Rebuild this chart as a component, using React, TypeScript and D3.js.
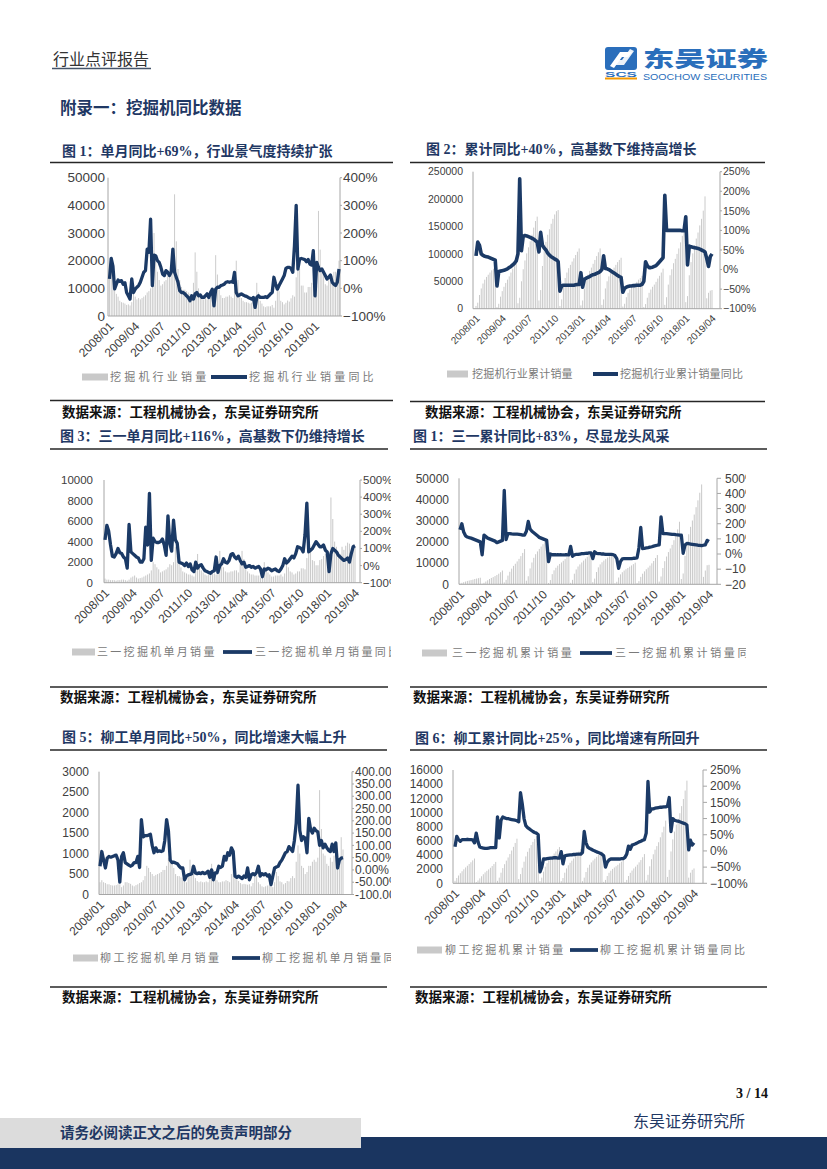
import React from "react";
import * as d3 from "d3";

// ---- categories ----
const months: string[] = [];
for (let y = 2008; y <= 2019; y++) {
  for (let m = 1; m <= 12; m++) {
    if (y === 2019 && m > 4) break;
    months.push(`${y}/${String(m).padStart(2, "0")}`);
  }
}
const xTickLabels = ["2008/01", "2009/04", "2010/07", "2011/10", "2013/01", "2014/04", "2015/07", "2016/10", "2018/01", "2019/04"];

// ---- 图1: 挖掘机行业单月销量 / 同比 (to 2019/03) ----
const industrySales = [
  15000, 18000, 14000, 10000, 8000, 7000, 5500, 5000, 4800, 4500, 4000, 4200,
  3800, 5000, 9000, 7000, 6000, 6500, 6000, 6500, 7000, 7500, 8500, 9000,
  10000, 12000, 30000, 22000, 16000, 13000, 11000, 11500, 12500, 13000, 14500, 15000,
  15000, 19000, 44000, 27000, 17000, 13000, 10500, 9500, 9500, 9000, 8500, 8000,
  6000, 12000, 23000, 16000, 10000, 8000, 6500, 6000, 6500, 6000, 6000, 6500,
  6500, 9000, 22000, 15000, 9500, 7500, 6500, 6500, 7000, 7000, 7500, 7000,
  6500, 10000, 20000, 13000, 8500, 6500, 5500, 5000, 5000, 4800, 4500, 4800,
  4000, 5000, 12000, 8500, 5500, 4500, 3500, 3200, 3500, 3500, 3500, 4000,
  3000, 5500, 11000, 9000, 5500, 5000, 4200, 4800, 5600, 5200, 6400, 7500,
  7000, 14000, 23000, 17000, 11000, 11000, 8500, 8500, 10500, 10500, 12000, 12000,
  12000, 11000, 38000, 24000, 16000, 15000, 11500, 11000, 13500, 12000, 14500, 16000,
  16000, 12000, 20000,
];
const industryYoy = [
  34, 108, 80, -2, 15, 30, 25, 28, 15, 20, -15, -27,
  -39, 34, -15, -3, 4, 10, 22, 40, 58, 64, 142, 130,
  250, 10, 120, 118, 100, 94, 76, 52, 46, 64, 58, 46,
  58, 142, 58, 40, 22, -8, -15, -15, -20, -27, -33, -45,
  -27, -39, -20, -15, -27, -24, -33, -33, -27, -20, -33, -15,
  -3, -63, -3, 4, 4, 10, 12, 15, 22, 24, 22, 24,
  22, 58, -15, -27, -24, -20, -24, -27, -29, -33, -36, -39,
  -33, -69, -33, -27, -33, -33, -33, -30, -33, -27, -20, -15,
  40, 15, -3, 10, 22, 34, 46, 72, 76, 76, 72, 58,
  154, 300, 70, 106, 108, 106, 104, 96, 104, 88, 84, 136,
  -27, 94, 76, 64, 70, 58, 46, 34, 40, 48, 22, 15,
  10, 22, 70,
];

// ---- 图2: 挖掘机行业累计销量 / 累计同比 ----
const industryCum = [
  5000, 11000, 25000, 37000, 46000, 53000, 58000, 62000, 66000, 70000, 73000, 76000,
  3000, 9000, 22000, 32000, 40000, 47000, 53000, 59000, 66000, 73000, 82000, 92000,
  10000, 20000, 50000, 72000, 88000, 101000, 112000, 123000, 135000, 148000, 160000, 168000,
  15000, 34000, 78000, 105000, 122000, 135000, 145000, 155000, 164000, 172000, 178000, 180000,
  5000, 17000, 40000, 56000, 66000, 74000, 80000, 86000, 92000, 98000, 104000, 110000,
  6000, 15000, 37000, 52000, 62000, 69000, 75000, 82000, 89000, 96000, 103000, 110000,
  7000, 17000, 37000, 50000, 59000, 65000, 70000, 75000, 80000, 85000, 89000, 93000,
  4000, 9000, 21000, 29000, 35000, 39000, 43000, 46000, 49000, 53000, 56000, 60000,
  3000, 8500, 20000, 29000, 35000, 40000, 44000, 49000, 55000, 60000, 66000, 73000,
  7000, 21000, 44000, 61000, 72000, 83000, 91000, 100000, 110000, 121000, 133000, 145000,
  12000, 23000, 61000, 85000, 101000, 116000, 128000, 139000, 152000, 164000, 179000, 205000,
  19000, 29000, 33000, 34000,
];
const industryCumYoy = [
  35, 70, 62, 40, 36, 34, 33, 32, 30, 28, 26, 24,
  -42, -5, -4, -3, -2, 0, 2, 5, 8, 12, 16, 22,
  40, 232, 48, 85, 87, 86, 84, 82, 80, 78, 74, 70,
  45, 95, 62, 55, 50, 42, 37, 33, 30, 27, 25, 20,
  -55, -42, -40, -40, -40, -40, -40, -40, -40, -39, -38, -38,
  -8, -45, -25, -22, -20, -18, -15, -13, -12, -10, -8, -5,
  0, 35, 3, 2, 0, -3, -6, -9, -12, -15, -18, -20,
  -58, -48, -45, -43, -42, -42, -41, -41, -40, -40, -40, -38,
  -30, 20, 10, 5, 5, 6, 8, 10, 15, 20, 25, 30,
  190, 100, 100, 100, 100, 100, 100, 100, 100, 100, 99, 99,
  135, 12, 60, 58, 57, 56, 55, 54, 52, 50, 48, 45,
  28, 8, 33, 40,
];

// ---- 图3: 三一单月销量 / 同比 ----
const sanyMonthly = [
  400, 300, 300, 250, 250, 250, 200, 250, 250, 300, 300, 250,
  200, 300, 500, 600, 700, 500, 400, 450, 500, 600, 700, 800,
  900, 1200, 2000, 1800, 1500, 1300, 1000, 1100, 1200, 1300, 1500, 1800,
  1700, 2000, 3500, 2600, 2000, 1500, 1100, 1000, 900, 800, 800, 700,
  600, 1400, 2800, 1800, 1200, 1000, 800, 700, 800, 800, 900, 900,
  800, 1500, 3100, 2200, 1500, 1100, 1000, 1000, 1100, 1100, 1200, 1200,
  1000, 1800, 3100, 2300, 1500, 1100, 900, 800, 800, 700, 700, 700,
  500, 700, 2000, 1500, 1000, 800, 600, 600, 700, 700, 700, 800,
  600, 900, 2000, 1500, 1100, 1000, 800, 900, 1100, 1100, 1400, 1400,
  1300, 2400, 4000, 3200, 2200, 2100, 1700, 1700, 2200, 2300, 2600, 2800,
  2500, 2600, 8300, 6200, 4000, 3500, 3000, 2800, 3500, 3200, 3600, 3900,
  3800, 3000, 3700, 3500,
];
const sanyMonthlyYoy = [
  150, 235, 200, 120, 55, 50, 70, 100, 75, 70, 50, 40,
  -15, 240, 80, 70, 60, 50, 45, 20, 20, 40, 225, 120,
  422, 30, 160, 140, 135, 135, 140, 155, 120, 60, 290, 130,
  85, 265, 150, 130, 20, 15, 10, 0, 15, -5, 10, -25,
  -35, 20, -15, 0, 5, -15, -30, -35, -40, -45, -35, -30,
  50, -40, 0, 10, 40, 20, 15, 30, 65, 70, 50, 40,
  55, 30, 10, 20, -10, -5, 0, -10, -5, -15, -10, -5,
  -20, -65, -20, -25, -15, -20, -30, -25, -20, -30, -35, -20,
  0, 40, 15, 25, 40, 55, 45, 70, 110, 105, 100, 80,
  180, 365, 80, 90, 100, 120, 140, 125, 110, 110, 120, 90,
  80, -35, 70, 100, 90, 80, 60, 50, 40, 30, 35, 45,
  20, 70, 110, 116,
];

// ---- 图4: 三一累计销量 / 累计同比 ----
const sanyCum = [
  400, 700, 1000, 1300, 1600, 1800, 2000, 2200, 2500, 2700, 2900, 3100,
  300, 700, 1300, 1900, 2500, 3000, 3400, 3900, 4400, 5000, 5700, 6500,
  900, 2100, 4100, 5900, 7400, 8700, 9700, 10800, 12000, 13300, 14800, 16600,
  1700, 3800, 7500, 10300, 12500, 14200, 15500, 16700, 17800, 18900, 19900, 20800,
  600, 2000, 4800, 6600, 7800, 8800, 9600, 10300, 11100, 11900, 12800, 13700,
  700, 2100, 5000, 7000, 8400, 9400, 10300, 11200, 12100, 13000, 14000, 15000,
  1000, 2700, 5800, 8000, 9400, 10400, 11200, 11900, 12600, 13200, 13800, 14300,
  500, 1200, 3200, 4700, 5700, 6500, 7100, 7700, 8300, 8900, 9500, 10200,
  600, 1500, 3500, 5000, 6100, 7100, 7900, 8800, 9900, 11000, 12400, 13800,
  1300, 3700, 7700, 10900, 13100, 15200, 16900, 18600, 20800, 23100, 25900, 29500,
  2500, 5100, 13400, 19600, 23600, 27100, 30100, 32900, 36400, 39600, 43200, 47100,
  3500, 6500, 9000, 9200,
];
const sanyCumYoy = [
  160, 200, 145, 120, 112, 108, 105, 100, 95, 90, 85, 80,
  -5, 125, 115, 105, 100, 95, 90, 85, 75, 80, 85, 90,
  420, 95, 135, 135, 133, 132, 132, 131, 130, 128, 125, 125,
  150, 215, 165, 150, 140, 130, 120, 110, 105, 100, 95, 90,
  -50, 0, -5, -5, -5, -4, -5, -5, -6, -5, -5, -6,
  50, -15, -5, -3, -2, 0, 2, 3, 4, 5, 7, 8,
  -30, 15, 5, 3, 2, 0, 0, -2, -2, -3, -3, -4,
  -10, -30, -95, -50, -32, -30, -30, -30, -30, -30, -28, -28,
  -25, 40, 175, 35, 38, 40, 42, 45, 48, 52, 55, 58,
  60, 245, 135, 135, 134, 133, 132, 130, 130, 128, 127, 125,
  125, 5, 60, 70, 68, 66, 64, 62, 60, 58, 57, 55,
  58, 60, 90, 83,
];

// ---- 图5: 柳工单月销量 / 同比 ----
const liugongMonthly = [
  300, 350, 300, 280, 250, 250, 230, 220, 220, 230, 250, 250,
  180, 220, 300, 300, 280, 260, 220, 200, 230, 250, 280, 300,
  350, 450, 700, 650, 550, 500, 450, 480, 500, 520, 550, 600,
  600, 700, 900, 850, 750, 650, 500, 450, 450, 420, 400, 380,
  300, 500, 850, 700, 500, 400, 330, 300, 320, 300, 300, 320,
  300, 450, 750, 600, 450, 350, 300, 300, 320, 320, 350, 330,
  300, 500, 800, 600, 420, 330, 280, 250, 260, 250, 240, 250,
  200, 280, 550, 450, 300, 250, 200, 180, 200, 220, 220, 250,
  180, 300, 550, 450, 320, 300, 250, 280, 330, 320, 400, 450,
  400, 800, 1200, 1000, 700, 650, 500, 550, 700, 700, 800, 850,
  800, 900, 2550, 1600, 1000, 950, 750, 700, 900, 800, 950, 1000,
  900, 700, 1400, 1100,
];
const liugongMonthlyYoy = [
  15, 75, 40, 8, 48, 55, 52, 55, 58, 60, 40, -50,
  55, 70, 30, 25, 20, 15, 20, 30, 30, 55, 10, 205,
  135, 140, 140, 142, 145, 100, 70, 90, 75, 78, 75, 78,
  120, 205, 160, 40, 30, 32, 28, 25, 15, 8, 8, -40,
  -25, -20, -18, -15, 15, -12, -15, -12, -15, -10, -15, -12,
  -5, -30, 0, -40, -12, -12, 15, 10, 15, 55, 40, 70,
  60, 90, 75, -25, -30, -25, -30, -35, -25, -30, 8, -40,
  -20, -15, -20, -10, 15, -25, -15, -20, -15, -25, -20, -60,
  -25, 8, 12, 15, 30, 40, 55, 70, 75, 95, 85, 75,
  120, 190, 345, 160, 120, 135, 130, 70, 210, 165, 150, 170,
  160, 155, 100, 120, 90, 105, 90, 80, 75, 105, 75, 110,
  8, 40, 48, 50,
];

// ---- 图6: 柳工累计销量 / 累计同比 ----
const liugongCum = [
  350, 750, 1100, 1420, 1700, 1980, 2240, 2480, 2720, 2970, 3240, 3500,
  180, 400, 700, 1000, 1280, 1540, 1760, 1960, 2190, 2440, 2720, 3020,
  350, 800, 1500, 2150, 2700, 3200, 3650, 4130, 4630, 5150, 5700, 6300,
  600, 1300, 2200, 3050, 3800, 4450, 4950, 5400, 5850, 6270, 6670, 7050,
  300, 800, 1650, 2350, 2850, 3250, 3580, 3880, 4200, 4500, 4800, 5120,
  300, 750, 1500, 2100, 2550, 2900, 3200, 3500, 3820, 4140, 4490, 4820,
  300, 800, 1600, 2200, 2620, 2950, 3230, 3480, 3740, 3990, 4230, 4480,
  200, 480, 1030, 1480, 1780, 2030, 2230, 2410, 2610, 2830, 3050, 3300,
  180, 480, 1030, 1480, 1800, 2100, 2350, 2630, 2960, 3280, 3680, 4130,
  400, 1200, 2400, 3400, 4100, 4750, 5250, 5800, 6500, 7200, 8000, 8850,
  900, 1900, 4500, 6200, 7300, 8300, 9100, 9900, 10900, 11900, 13100, 14500,
  800, 1500, 1900, 2100,
];
const liugongCumYoy = [
  13, 45, 35, 30, 35, 35, 35, 36, 35, 35, 34, 25,
  55, 28, 12, 10, 9, 8, 8, 9, 10, 10, 10, 10,
  105, 40, 95, 105, 102, 100, 100, 98, 97, 96, 95, 93,
  90, 180, 145, 100, 78, 72, 68, 64, 60, 57, 55, 50,
  -65, -50, -25, -25, -24, -23, -22, -22, -21, -21, -22, -22,
  -2, -40, -15, -14, -13, -12, -12, -11, -11, -10, -10, -10,
  -5, 60, 25, 12, 8, 5, 2, 0, -3, -5, -7, -10,
  -15, -50, -35, -28, -25, -25, -25, -25, -25, -25, -24, -24,
  -20, -10, 15, 5, 18, 20, 22, 25, 28, 30, 33, 35,
  55, 215, 120, 130, 130, 132, 133, 134, 135, 135, 136, 136,
  138, 165, 60, 100, 95, 93, 92, 90, 88, 86, 84, 80,
  3, 33, 18, 25,
];

const NAVY = "#1B3A66";
const TITLE_NAVY = "#1F3864";
const BAR = "#C9C9C9";
const AXIS = "#A6A6A6";
const CJK = "'Noto Sans CJK SC', sans-serif";
const SERIF_CJK = "'Liberation Serif', 'Noto Sans CJK SC', serif";
const ARIAL = "'Liberation Sans', Arial, sans-serif";

const pct = (v: number) => `${v < 0 ? "−" : ""}${Math.abs(v)}%`;
const pct2 = (v: number) => `${v < 0 ? "-" : ""}${Math.abs(v).toFixed(2)}%`;

type PanelCfg = {
  id: string;
  title: string;
  titleX: number;
  titleY: number;
  ruleX0: number;
  ruleX1: number;
  ruleTop: number;
  ruleBottom: number;
  sourceX: number;
  sourceY: number;
  bars: number[];
  line: number[];
  leftMax: number;
  leftStep: number;
  rightMin: number;
  rightMax: number;
  rightStep: number;
  rightFmt: (v: number) => string;
  axisL: number;
  axisR: number;
  dataX0: number;
  dataX1: number;
  yTop: number;
  yBottom: number;
  leftGap: number;
  rightGap: number;
  numFont: number;
  xFont: number;
  lineWidth: number;
  legendY: number;
  legRect: [number, number];
  leg1X: number;
  legLine: [number, number];
  leg2X: number;
  legSpacing: number;
  legend1: string;
  legend2: string;
  clipX0: number;
  clipX1: number;
};

function Panel(p: PanelCfg) {
  const n = p.line.length;
  const x = d3.scalePoint<number>().domain(d3.range(n)).range([p.dataX0, p.dataX1]);
  const yL = d3.scaleLinear().domain([0, p.leftMax]).range([p.yBottom, p.yTop]);
  const yR = d3.scaleLinear().domain([p.rightMin, p.rightMax]).range([p.yBottom, p.yTop]);
  const bw = Math.max(0.9, x.step() * 0.55);
  const path = d3
    .line<number>()
    .x((_, i) => x(i) as number)
    .y((d) => yR(d))(p.line) as string;
  const leftTicks = d3.range(0, p.leftMax + 1, p.leftStep);
  const rightTicks = d3.range(p.rightMin, p.rightMax + 0.001, p.rightStep);
  const clipId = `clip-${p.id}`;
  const labelIdx = d3.range(n).filter((i) => xTickLabels.includes(months[i]));
  const tickLen = Math.min(4, p.rightGap - 1);

  return (
    <g>
      <text x={p.titleX} y={p.titleY} fontFamily={SERIF_CJK} fontWeight={700} fontSize={14} fill={TITLE_NAVY}>
        {p.title}
      </text>
      <line x1={p.ruleX0} x2={p.ruleX1} y1={p.ruleTop} y2={p.ruleTop} stroke="#262626" strokeWidth={1.6} />
      <defs>
        <clipPath id={clipId}>
          <rect x={p.clipX0} y={p.ruleTop + 2} width={p.clipX1 - p.clipX0} height={p.ruleBottom - p.ruleTop - 4} />
        </clipPath>
      </defs>
      <g clipPath={`url(#${clipId})`}>
        {/* bars */}
        {p.bars.map((v, i) => (
          <rect key={i} x={(x(i) as number) - bw / 2} y={yL(v)} width={bw} height={p.yBottom - yL(v)} fill={BAR} />
        ))}
        {/* axes */}
        <line x1={p.axisL} x2={p.axisL} y1={p.yTop} y2={p.yBottom} stroke={AXIS} strokeWidth={1} />
        <line x1={p.axisR} x2={p.axisR} y1={p.yTop} y2={p.yBottom} stroke={AXIS} strokeWidth={1} />
        <line x1={p.axisL} x2={p.axisR} y1={p.yBottom} y2={p.yBottom} stroke={AXIS} strokeWidth={1} />
        {leftTicks.map((t) => (
          <text key={t} x={p.axisL - p.leftGap} y={yL(t)} dy="0.35em" textAnchor="end" fontFamily={ARIAL} fontSize={p.numFont} fill="#404040">
            {t}
          </text>
        ))}
        {rightTicks.map((t) => (
          <g key={t}>
            <line x1={p.axisR} x2={p.axisR + tickLen} y1={yR(t)} y2={yR(t)} stroke={AXIS} />
            <text x={p.axisR + p.rightGap} y={yR(t)} dy="0.35em" fontFamily={ARIAL} fontSize={p.numFont} fill="#404040">
              {p.rightFmt(t)}
            </text>
          </g>
        ))}
        {labelIdx.map((i) => {
          const lx = (x(i) as number) + 2;
          const ly = p.yBottom + 8;
          return (
            <text key={i} x={lx} y={ly} textAnchor="end" fontFamily={ARIAL} fontSize={p.xFont} fill="#404040" transform={`rotate(-45 ${lx} ${ly})`} dy="0.35em">
              {months[i]}
            </text>
          );
        })}
        {/* yoy line */}
        <path d={path} fill="none" stroke={NAVY} strokeWidth={p.lineWidth} strokeLinejoin="round" />
        {/* legend */}
        <rect x={p.legRect[0]} y={p.legendY - 3.5} width={p.legRect[1] - p.legRect[0]} height={7} fill={BAR} />
        <text x={p.leg1X} y={p.legendY} dy="0.36em" fontFamily={CJK} fontSize={11} fill="#7a7a7a" letterSpacing={p.legSpacing}>
          {p.legend1}
        </text>
        <line x1={p.legLine[0]} x2={p.legLine[1]} y1={p.legendY} y2={p.legendY} stroke={NAVY} strokeWidth={p.lineWidth + 0.5} />
        <text x={p.leg2X} y={p.legendY} dy="0.36em" fontFamily={CJK} fontSize={11} fill="#7a7a7a" letterSpacing={p.legSpacing}>
          {p.legend2}
        </text>
      </g>
      <line x1={p.ruleX0} x2={p.ruleX1} y1={p.ruleBottom} y2={p.ruleBottom} stroke="#262626" strokeWidth={1.6} />
      <text x={p.sourceX} y={p.sourceY} dy="0.36em" fontFamily={CJK} fontWeight={700} fontSize={13.5} fill="#111">
        数据来源：工程机械协会，东吴证券研究所
      </text>
    </g>
  );
}

const panels: PanelCfg[] = [
  {
    id: "c1", title: "图 1：单月同比+69%，行业景气度持续扩张", titleX: 62, titleY: 156,
    ruleX0: 50, ruleX1: 393, ruleTop: 162.5, ruleBottom: 400.5, sourceX: 62, sourceY: 412,
    bars: industrySales, line: industryYoy, leftMax: 50000, leftStep: 10000,
    rightMin: -100, rightMax: 400, rightStep: 100, rightFmt: pct,
    axisL: 108, axisR: 340, dataX0: 109.5, dataX1: 339, yTop: 177.7, yBottom: 316,
    leftGap: 3, rightGap: 3, numFont: 13.5, xFont: 12, lineWidth: 3.3,
    legendY: 377, legRect: [82, 108], leg1X: 110, legLine: [211, 247], leg2X: 249, legSpacing: 3.2,
    legend1: "挖掘机行业销量", legend2: "挖掘机行业销量同比", clipX0: 40, clipX1: 400,
  },
  {
    id: "c2", title: "图 2：累计同比+40%，高基数下维持高增长", titleX: 426, titleY: 154,
    ruleX0: 410, ruleX1: 765, ruleTop: 162.5, ruleBottom: 401.5, sourceX: 425, sourceY: 412,
    bars: industryCum, line: industryCumYoy, leftMax: 250000, leftStep: 50000,
    rightMin: -100, rightMax: 250, rightStep: 50, rightFmt: pct,
    axisL: 473, axisR: 720, dataX0: 476, dataX1: 712, yTop: 171.7, yBottom: 308.7,
    leftGap: 10, rightGap: 3, numFont: 10.5, xFont: 10, lineWidth: 3.6,
    legendY: 374, legRect: [447, 468], leg1X: 472, legLine: [593, 618], leg2X: 620, legSpacing: 0.2,
    legend1: "挖掘机行业累计销量", legend2: "挖掘机行业累计销量同比", clipX0: 403, clipX1: 800,
  },
  {
    id: "c3", title: "图 3：三一单月同比+116%，高基数下仍维持增长", titleX: 60, titleY: 441,
    ruleX0: 50, ruleX1: 388, ruleTop: 449, ruleBottom: 687, sourceX: 60, sourceY: 697,
    bars: sanyMonthly, line: sanyMonthlyYoy, leftMax: 10000, leftStep: 2000,
    rightMin: -100, rightMax: 500, rightStep: 100, rightFmt: pct,
    axisL: 104, axisR: 360, dataX0: 105, dataX1: 355, yTop: 480, yBottom: 582.7,
    leftGap: 11, rightGap: 3, numFont: 11.5, xFont: 12, lineWidth: 3.3,
    legendY: 652, legRect: [72, 95], leg1X: 97, legLine: [223, 252], leg2X: 255, legSpacing: 2.3,
    legend1: "三一挖掘机单月销量", legend2: "三一挖掘机单月销量同比", clipX0: 40, clipX1: 391,
  },
  {
    id: "c4", title: "图 1：三一累计同比+83%，尽显龙头风采", titleX: 413, titleY: 441,
    ruleX0: 410, ruleX1: 767, ruleTop: 449, ruleBottom: 687, sourceX: 413, sourceY: 697,
    bars: sanyCum, line: sanyCumYoy, leftMax: 50000, leftStep: 10000,
    rightMin: -200, rightMax: 500, rightStep: 100, rightFmt: pct,
    axisL: 459, axisR: 717, dataX0: 460, dataX1: 709, yTop: 478.3, yBottom: 584.3,
    leftGap: 10, rightGap: 8, numFont: 12, xFont: 12, lineWidth: 3.3,
    legendY: 653, legRect: [422, 447], leg1X: 452, legLine: [580, 612], leg2X: 615, legSpacing: 2.6,
    legend1: "三一挖掘机累计销量", legend2: "三一挖掘机累计销量同比", clipX0: 403, clipX1: 746,
  },
  {
    id: "c5", title: "图 5：柳工单月同比+50%，同比增速大幅上升", titleX: 62, titleY: 742,
    ruleX0: 50, ruleX1: 387, ruleTop: 750, ruleBottom: 987, sourceX: 62, sourceY: 997,
    bars: liugongMonthly, line: liugongMonthlyYoy, leftMax: 3000, leftStep: 500,
    rightMin: -100, rightMax: 400, rightStep: 50, rightFmt: pct2,
    axisL: 99, axisR: 352, dataX0: 100, dataX1: 343, yTop: 771.7, yBottom: 894.5,
    leftGap: 10, rightGap: 3, numFont: 12, xFont: 12, lineWidth: 3.3,
    legendY: 958, legRect: [73, 98], leg1X: 100, legLine: [232, 260], leg2X: 262, legSpacing: 2.5,
    legend1: "柳工挖掘机单月销量", legend2: "柳工挖掘机单月销量同比", clipX0: 40, clipX1: 391,
  },
  {
    id: "c6", title: "图 6：柳工累计同比+25%，同比增速有所回升", titleX: 415, titleY: 743,
    ruleX0: 410, ruleX1: 767, ruleTop: 750, ruleBottom: 987, sourceX: 415, sourceY: 997,
    bars: liugongCum, line: liugongCumYoy, leftMax: 16000, leftStep: 2000,
    rightMin: -100, rightMax: 250, rightStep: 50, rightFmt: pct,
    axisL: 453, axisR: 703, dataX0: 455, dataX1: 694, yTop: 770, yBottom: 883.3,
    leftGap: 10, rightGap: 7, numFont: 12, xFont: 12, lineWidth: 3.3,
    legendY: 950, legRect: [417, 442], leg1X: 445, legLine: [570, 598], leg2X: 600, legSpacing: 2.4,
    legend1: "柳工挖掘机累计销量", legend2: "柳工挖掘机累计销量同比", clipX0: 403, clipX1: 800,
  },
];

export default function App() {
  return (
    <svg width={827} height={1169} viewBox="0 0 827 1169" style={{ position: "absolute", left: 0, top: 0, background: "#fff" }}>
      <rect x={0} y={0} width={827} height={1169} fill="#fff" />
      {/* header */}
      <text x={53} y={65} fontFamily={CJK} fontSize={16} fill="#333">行业点评报告</text>
      <line x1={52} x2={151} y1={68.5} y2={68.5} stroke="#44546A" strokeWidth={1.5} />
      {/* logo */}
      <rect x={605} y={47} width={32} height={23} rx={3} fill="#2A6EBB" />
      <path d="M610 66 L620 52 L632 52 L628 57 L622 57 L614 68 Z" fill="#fff" />
      <path d="M634 51 L624 65 L612 65 L616 60 L622 60 L630 49 Z" fill="#fff" opacity={0.9} />
      <text x={605} y={76.5} fontFamily={ARIAL} fontWeight={700} fontSize={7.5} fill="#2A6EBB" textLength={32} lengthAdjust="spacingAndGlyphs">SCS</text>
      <rect x={605} y={77.5} width={32} height={2} fill="#F39800" />
      <text x={643} y={66} fontFamily={CJK} fontWeight={900} fontSize={21} fill="#2A6EBB" textLength={125} lengthAdjust="spacingAndGlyphs">东吴证券</text>
      <text x={643} y={80} fontFamily={ARIAL} fontSize={9.5} fill="#2A6EBB" textLength={124} lengthAdjust="spacingAndGlyphs">SOOCHOW SECURITIES</text>
      {/* section title */}
      <text x={60} y={114} fontFamily={CJK} fontWeight={700} fontSize={16.5} fill={TITLE_NAVY}>附录一：挖掘机同比数据</text>

      {panels.map((p) => (
        <Panel key={p.id} {...p} />
      ))}

      {/* footer */}
      <text x={768} y={1098} textAnchor="end" fontFamily="'Liberation Serif', serif" fontWeight={700} fontSize={14} fill="#111">3 / 14</text>
      <text x={745} y={1127} textAnchor="end" fontFamily={CJK} fontSize={16} fill={TITLE_NAVY}>东吴证券研究所</text>
      <rect x={0} y={1137} width={827} height={32} fill="#1A3560" />
      <rect x={0} y={1118} width={361} height={30} fill="#DCDCDC" />
      <text x={60} y={1133} dy="0.36em" fontFamily={CJK} fontWeight={700} fontSize={14.5} fill={TITLE_NAVY}>请务必阅读正文之后的免责声明部分</text>
    </svg>
  );
}
